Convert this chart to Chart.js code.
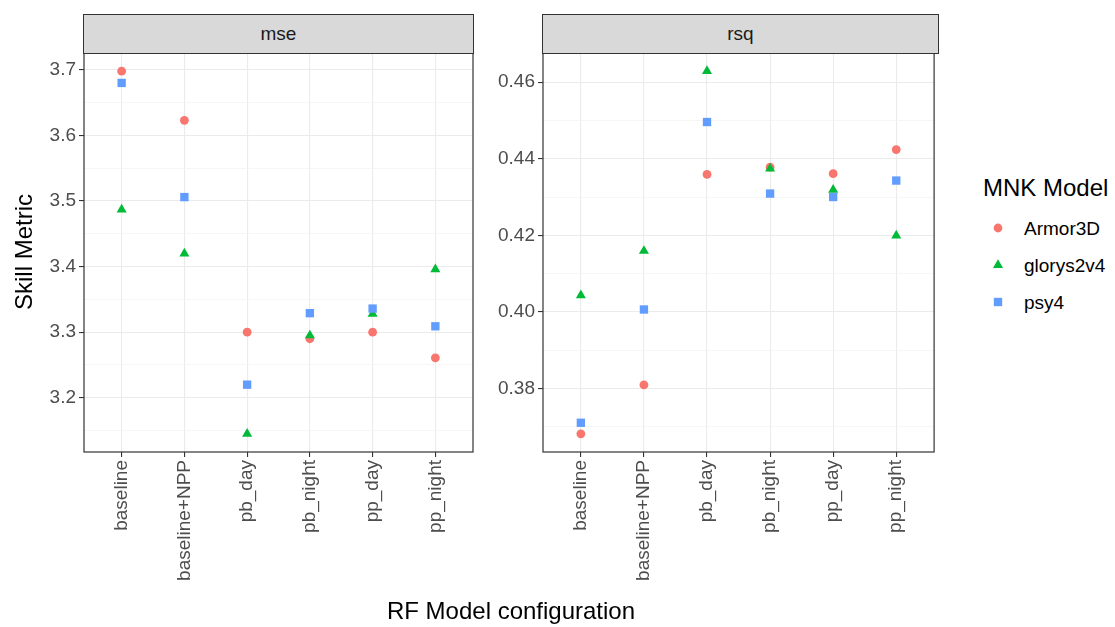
<!DOCTYPE html>
<html>
<head>
<meta charset="utf-8">
<script src="https://cdn.jsdelivr.net/npm/chart.js@4"></script>
<style>
  body { margin: 0; background: #fff; }
  #wrap { position: relative; width: 1115px; height: 627px; background: #fff; font-family: 'Liberation Sans', Arial, Helvetica, sans-serif; overflow: hidden; }
  canvas { position: absolute; top: 0; }
  .strip { position: absolute; top: 14px; height: 40px; box-sizing: border-box; border: 1.2px solid #333; background: #D9D9D9; color: #1A1A1A; font-size: 19px; display: flex; align-items: center; justify-content: center; }
  .title { position: absolute; font-size: 24px; line-height: 1; white-space: nowrap; color: #000; }
  .leg { position: absolute; font-size: 19px; line-height: 19px; white-space: nowrap; color: #000; }
  .key { position: absolute; }
</style>
</head>
<body>
<div id="wrap">
  <canvas id="mseChart" width="480" height="627" style="left:0px;width:480px;height:627px"></canvas>
  <canvas id="rsqChart" width="460" height="627" style="left:480px;width:460px;height:627px"></canvas>

  <div class="strip" style="left:83px;width:391px">mse</div>
  <div class="strip" style="left:542px;width:397px">rsq</div>

  <div class="title" style="left:24px;top:252px;transform:translate(-50%,-50%) rotate(-90deg)">Skill Metric</div>
  <div class="title" style="left:511px;top:611px;transform:translate(-50%,-50%)">RF Model configuration</div>

  <div class="title" style="left:983px;top:176px">MNK Model</div>
  <div id="legend"></div>
</div>

<script>
// categories on the x axis
const configs = ['baseline', 'baseline+NPP', 'pb_day', 'pb_night', 'pp_day', 'pp_night'];

// MNK models (legend)
const models = ['Armor3D', 'glorys2v4', 'psy4'];
const modelColors = ['#F8766D', '#00BA38', '#619CFF'];
const modelShapes = ['circle', 'triangle', 'rect'];
const modelRadius = [4.4, 5.8, 5.9];

// mse panel values
const mseArmor3D = [3.698, 3.623, 3.300, 3.290, 3.300, 3.261];
const mseGlorys2v4 = [3.487, 3.420, 3.145, 3.295, 3.328, 3.396];
const msePsy4 = [3.680, 3.506, 3.220, 3.329, 3.336, 3.309];

// rsq panel values
const rsqArmor3D = [0.3681, 0.3809, 0.4359, 0.4378, 0.4361, 0.4424];
const rsqGlorys2v4 = [0.4043, 0.4159, 0.4629, 0.4374, 0.4319, 0.4199];
const rsqPsy4 = [0.3710, 0.4006, 0.4496, 0.4309, 0.4300, 0.4343];

// major tick labels
const mseTicks = [3.2, 3.3, 3.4, 3.5, 3.6, 3.7];
const rsqTicks = [0.38, 0.40, 0.42, 0.44, 0.46];

const fontFamily = "'Liberation Sans', Arial, Helvetica, sans-serif";

// ggplot style 5% expansion of the data range
function expandRange(seriesList) {
    const all = [].concat(...seriesList);
    const lo = Math.min(...all), hi = Math.max(...all);
    const pad = (hi - lo) * 0.05;
    return [lo - pad, hi + pad];
}

// major + minor (halfway) ticks within range
function buildTicks(majors, lo, hi) {
    const step = majors[1] - majors[0];
    const out = majors.map(v => ({ value: v, minor: false }));
    for (let v = majors[0] - step / 2; v <= hi; v += step) {
        if (v >= lo) out.push({ value: +v.toFixed(6), minor: true });
    }
    return out.sort((a, b) => a.value - b.value);
}

// draws the dark panel border around the plot area
const panelBorder = {
    id: 'panelBorder',
    afterDraw(chart) {
        const { left, top, right, bottom } = chart.chartArea;
        const ctx = chart.ctx;
        ctx.save();
        ctx.strokeStyle = '#333333';
        ctx.lineWidth = 1.2;
        ctx.strokeRect(left, top, right - left, bottom - top);
        ctx.restore();
    }
};

function makePanel(canvasId, seriesList, majors, decimals, yWidth, padRight) {
    const [lo, hi] = expandRange(seriesList);
    const ticks = buildTicks(majors, lo, hi);

    const datasets = models.map((m, k) => ({
        label: m,
        data: seriesList[k].map((v, i) => ({ x: i, y: v })),
        pointStyle: modelShapes[k],
        pointRadius: modelRadius[k],
        pointHoverRadius: modelRadius[k],
        pointBackgroundColor: modelColors[k],
        pointBorderWidth: 0,
        showLine: false,
        order: models.length - 1 - k
    }));

    return new Chart(document.getElementById(canvasId), {
        type: 'scatter',
        data: { datasets },
        options: {
            responsive: false,
            animation: false,
            layout: { padding: { top: 53, right: padRight, left: 0, bottom: 0 } },
            plugins: { legend: { display: false }, tooltip: { enabled: false } },
            scales: {
                x: {
                    type: 'linear',
                    min: -0.6,
                    max: configs.length - 1 + 0.6,
                    afterBuildTicks: s => { s.ticks = configs.map((c, i) => ({ value: i })); },
                    afterFit: s => { s.height = 175; },
                    border: { display: false },
                    grid: { color: '#EBEBEB', lineWidth: 1.1, tickColor: '#333333', tickLength: 5, tickWidth: 1.1 },
                    ticks: {
                        autoSkip: false,
                        minRotation: 90,
                        maxRotation: 90,
                        padding: 3,
                        color: '#4D4D4D',
                        font: { size: 19, family: fontFamily },
                        callback: v => configs[v]
                    }
                },
                y: {
                    type: 'linear',
                    min: lo,
                    max: hi,
                    afterBuildTicks: s => { s.ticks = ticks.map(t => ({ ...t })); },
                    afterFit: s => { s.width = yWidth; },
                    border: { display: false },
                    grid: {
                        color: c => (c.tick && c.tick.minor) ? '#F2F2F2' : '#EBEBEB',
                        lineWidth: c => (c.tick && c.tick.minor) ? 0.7 : 1.1,
                        tickColor: c => (c.tick && c.tick.minor) ? 'rgba(0,0,0,0)' : '#333333',
                        tickLength: 5,
                        tickWidth: 1.1
                    },
                    ticks: {
                        padding: 3,
                        color: '#4D4D4D',
                        font: { size: 19, family: fontFamily },
                        callback: (v, i, arr) => arr[i].minor ? '' : v.toFixed(decimals)
                    }
                }
            }
        },
        plugins: [panelBorder]
    });
}

makePanel('mseChart', [mseArmor3D, mseGlorys2v4, msePsy4], mseTicks, 1, 84, 7);
makePanel('rsqChart', [rsqArmor3D, rsqGlorys2v4, rsqPsy4], rsqTicks, 2, 63, 2);

// legend keys and labels
const legendRows = [228, 265, 302];
const legend = document.getElementById('legend');
models.forEach((m, k) => {
    const cy = legendRows[k];
    const r = modelRadius[k];
    let shape;
    if (modelShapes[k] === 'circle') {
        shape = `<circle cx="10" cy="10" r="${r}" fill="${modelColors[k]}"/>`;
    } else if (modelShapes[k] === 'triangle') {
        const h = r * 1.5, w = r * Math.sqrt(3) / 2;
        shape = `<polygon points="10,${10 - r} ${10 + w},${10 - r + h} ${10 - w},${10 - r + h}" fill="${modelColors[k]}"/>`;
    } else {
        const s = r * Math.SQRT1_2;
        shape = `<rect x="${10 - s}" y="${10 - s}" width="${2 * s}" height="${2 * s}" fill="${modelColors[k]}"/>`;
    }
    const key = document.createElement('div');
    key.className = 'key';
    key.style.left = '988px';
    key.style.top = (cy - 10) + 'px';
    key.innerHTML = `<svg width="20" height="20">${shape}</svg>`;
    legend.appendChild(key);

    const lab = document.createElement('div');
    lab.className = 'leg';
    lab.style.left = '1024px';
    lab.style.top = (cy - 9.5) + 'px';
    lab.textContent = m;
    legend.appendChild(lab);
});
</script>
</body>
</html>
